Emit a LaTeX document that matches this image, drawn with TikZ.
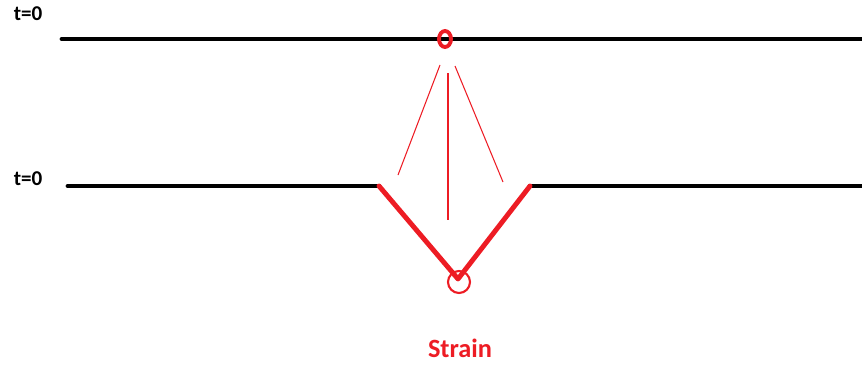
\documentclass[tikz,border=0pt]{standalone}
\usepackage{fontspec}
\setmainfont{Carlito}
\definecolor{strainred}{RGB}{237,28,36}
\tikzset{
  wire/.style={line width=2.8pt,black,line cap=round},
  bent/.style={line width=2.8pt,strainred,line cap=round,line join=round},
  ray/.style={line width=0.6pt,strainred},
  lbl/.style={font=\bfseries\fontsize{12}{14}\selectfont,inner sep=0pt}
}
\begin{document}
\begin{tikzpicture}[x=0.02cm,y=-0.02cm]
\useasboundingbox (0,0) rectangle (862,365);

% upper string
\node[lbl] (ttop) at (28,14) {t=0};
\draw[wire] (62,39) -- (862,39);
\draw[strainred,line width=2.2pt] (445,39) ellipse [x radius=6,y radius=8];

% lower string
\node[lbl] (tbot) at (28,179) {t=0};
\coordinate (kl) at (379,186);
\coordinate (kr) at (530,186);
\coordinate (tip) at (458,279);
\draw[wire] (68,186) -- (kl);
\draw[wire] (kr) -- (862,186);
\draw[bent] (kl) -- (tip) -- (kr);
\draw[strainred,line width=1.2pt] (459,282) circle [radius=11];

% thin lines
\draw[ray] (440,65) -- (398,175);
\draw[ray] (448,73) -- (448,220);
\draw[ray] (455,66) -- (503,182);

\node[lbl,font=\bfseries\fontsize{15}{18}\selectfont,text=strainred] (strain) at (460,348) {Strain};
\end{tikzpicture}
\end{document}
